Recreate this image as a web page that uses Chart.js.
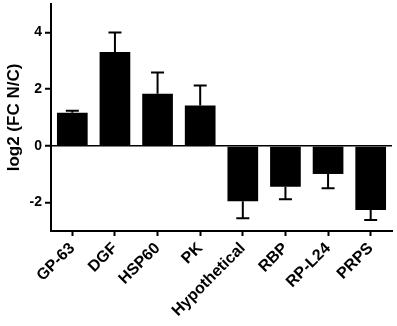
<!DOCTYPE html>
<html>
<head>
<meta charset="utf-8">
<script src="https://cdn.jsdelivr.net/npm/chart.js@4/dist/chart.umd.min.js"></script>
<style>
  html, body { margin: 0; padding: 0; background: #fff; }
  #wrap { width: 397px; height: 326px; }
</style>
</head>
<body>
<div id="wrap"><canvas id="foldChart"></canvas></div>
<script>
const genes = ['GP-63', 'DGF', 'HSP60', 'PK', 'Hypothetical', 'RBP', 'RP-L24', 'PRPS'];
const log2FC = [1.17, 3.31, 1.84, 1.42, -1.95, -1.44, -0.99, -2.26];
const errors = [0.07, 0.69, 0.75, 0.71, 0.6, 0.44, 0.5, 0.35];
const yTicks = [-2, 0, 2, 4];

const FONT = '"Liberation Sans", Arial, Helvetica, sans-serif';

// one-sided error bars, pointing away from zero
const errorBars = {
    id: 'errorBars',
    afterDatasetsDraw(chart) {
        const ctx = chart.ctx;
        const yScale = chart.scales.y;
        const meta = chart.getDatasetMeta(0);
        ctx.save();
        ctx.strokeStyle = '#000';
        ctx.lineWidth = 2;
        meta.data.forEach((bar, i) => {
            const v = log2FC[i];
            const end = v + Math.sign(v) * errors[i];
            const y0 = yScale.getPixelForValue(v);
            const y1 = yScale.getPixelForValue(end);
            ctx.beginPath();
            ctx.moveTo(bar.x, y0);
            ctx.lineTo(bar.x, y1);
            ctx.moveTo(bar.x - 6.5, y1);
            ctx.lineTo(bar.x + 6.5, y1);
            ctx.stroke();
        });
        ctx.restore();
    }
};

function initializeFoldChart() {
    const ctx = document.getElementById('foldChart').getContext('2d');
    new Chart(ctx, {
        type: 'bar',
        data: {
            labels: genes,
            datasets: [{
                data: log2FC,
                backgroundColor: '#000',
                borderWidth: 0,
                barPercentage: 0.72,
                categoryPercentage: 1
            }]
        },
        options: {
            responsive: true,
            maintainAspectRatio: false,
            animation: false,
            layout: { padding: { top: 4, right: 5, left: 0, bottom: 0 } },
            plugins: {
                legend: { display: false },
                tooltip: { enabled: false }
            },
            scales: {
                x: {
                    afterFit: s => {
                        s.height = 95;
                        s.paddingLeft = 0;
                        s.paddingRight = 0;
                    },
                    border: { color: '#000', width: 2 },
                    grid: {
                        offset: false,
                        drawOnChartArea: false,
                        tickColor: '#000',
                        tickLength: 5,
                        tickWidth: 2
                    },
                    ticks: {
                        color: '#000',
                        minRotation: 45,
                        maxRotation: 45,
                        padding: 3,
                        font: { family: FONT, size: 16, weight: 'bold' }
                    }
                },
                y: {
                    min: -3,
                    max: 5,
                    afterFit: s => {
                        s.width = 51;
                        s.paddingTop = 0;
                        s.paddingBottom = 0;
                    },
                    afterBuildTicks: s => { s.ticks = yTicks.map(v => ({ value: v })); },
                    border: { color: '#000', width: 2 },
                    grid: {
                        color: c => (c.tick && c.tick.value === 0 ? '#000' : 'rgba(0,0,0,0)'),
                        lineWidth: 1.5,
                        tickColor: '#000',
                        tickLength: 6,
                        tickWidth: 2
                    },
                    ticks: {
                        color: '#000',
                        padding: 3,
                        font: { family: FONT, size: 14, weight: 'bold' }
                    },
                    title: {
                        display: true,
                        text: 'log2 (FC N/C)',
                        color: '#000',
                        padding: { top: 4, bottom: 0 },
                        font: { family: FONT, size: 17, weight: 'bold' }
                    }
                }
            }
        },
        plugins: [errorBars]
    });
}

document.addEventListener('DOMContentLoaded', initializeFoldChart);
</script>
</body>
</html>
